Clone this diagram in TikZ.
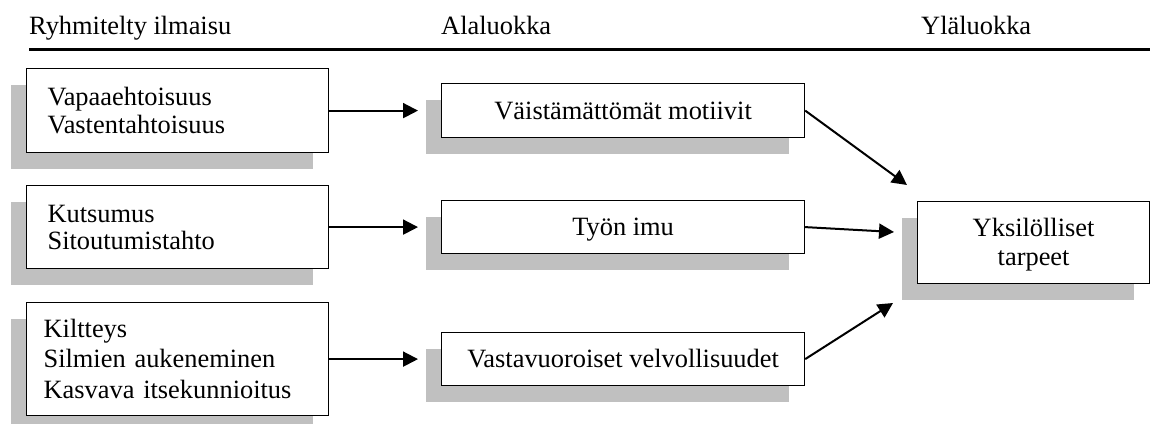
\documentclass[tikz,border=0pt]{standalone}
\usepackage{fontspec}
\setmainfont{Liberation Serif}
\usetikzlibrary{arrows.meta,shadows}
\definecolor{shadowgray}{RGB}{192,192,192}
\begin{document}
\begin{tikzpicture}[x=1pt,y=-1pt,
  every node/.style={font=\fontsize{26.4}{27.7}\selectfont},
  box/.style={draw, line width=1.2pt, fill=white,
    drop shadow={shadow xshift=-16pt, shadow yshift=-16pt, fill=shadowgray, opacity=1},
    anchor=north west, inner sep=0pt, text height=17.5pt},
  srcbox/.style={box, minimum width=302pt, inner xsep=21pt, text width=260pt, align=left},
  midbox/.style={box, minimum width=363pt, minimum height=53pt, text depth=0pt},
  head/.style={anchor=base west, inner sep=0pt},
  arr/.style={line width=2pt, -{Triangle[length=15pt,width=15pt]}}
]
\useasboundingbox (0,0) rectangle (1150,423);

% column headings and rule
\node[head] (h1) at (29,34) {Ryhmitelty ilmaisu};
\node[head] (h2) at (441,34) {Alaluokka};
\node[head] (h3) at (921,34) {Yläluokka};
\draw[line width=2.5pt] (29,49.5) -- (1150,49.5);

% grouped expressions
\node[srcbox, minimum height=84pt, text depth=27.7pt] (l1) at (26,68)
  {Vapaaehtoisuus\\Vastentahtoisuus};
\node[srcbox, minimum height=83pt, text depth=27.7pt] (l2) at (26,185)
  {Kutsumus\\Sitoutumistahto};
\node[srcbox, minimum height=113pt, inner xsep=17pt, text width=268pt,
      font=\fontsize{26.4}{30.5}\selectfont, text depth=61pt] (l3) at (26,302)
  {Kiltteys\\Silmien aukeneminen\\Kasvava itsekunnioitus};

% subcategories
\node[midbox, minimum height=54pt] (m1) at (441,83) {Väistämättömät motiivit};
\node[midbox] (m2) at (441,200) {Työn imu};
\node[midbox] (m3) at (441,332) {Vastavuoroiset velvollisuudet};

% main category
\node[box, minimum width=232pt, minimum height=82pt, inner xsep=8pt,
      text width=216pt, align=center, font=\fontsize{26.4}{29}\selectfont,
      text depth=29pt] (r) at (917,201)
  {Yksilölliset\\tarpeet};

% arrow ends in front of the main category
\coordinate (t1) at (907,185);
\coordinate (t2) at (894,232);
\coordinate (t3) at (893,303);

\draw[arr, shorten >=23pt] (l1) -- (m1);
\draw[arr, shorten >=23pt] (l2) -- (m2);
\draw[arr, shorten >=23pt] (l3) -- (m3);

\draw[arr] (m1.east) -- (t1);
\draw[arr] (m2.east) -- (t2);
\draw[arr] (m3.east) -- (t3);
\end{tikzpicture}
\end{document}
